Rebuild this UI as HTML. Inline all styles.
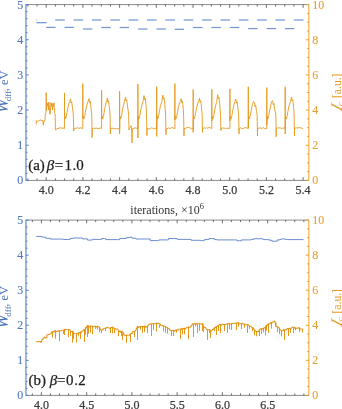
<!DOCTYPE html>
<html><head><meta charset="utf-8"><title>plot</title>
<style>html,body{margin:0;padding:0;background:#fff;} body{width:342px;height:409px;overflow:hidden;} svg{display:block;}</style>
</head><body>
<svg width="342" height="409" viewBox="0 0 342 409" font-family="'Liberation Serif', 'DejaVu Serif', serif">
<line x1="25.75" y1="4.6" x2="308.8" y2="4.6" stroke="#8a8a8a" stroke-width="1"/>
<line x1="25.75" y1="180.4" x2="308.8" y2="180.4" stroke="#8a8a8a" stroke-width="1"/>
<line x1="27.85" y1="180.4" x2="27.85" y2="178.4" stroke="#4a4a4a" stroke-width="0.8"/>
<line x1="27.85" y1="4.6" x2="27.85" y2="6.6" stroke="#4a4a4a" stroke-width="0.8"/>
<line x1="37.03" y1="180.4" x2="37.03" y2="178.4" stroke="#4a4a4a" stroke-width="0.8"/>
<line x1="37.03" y1="4.6" x2="37.03" y2="6.6" stroke="#4a4a4a" stroke-width="0.8"/>
<line x1="46.2" y1="180.4" x2="46.2" y2="177.2" stroke="#4a4a4a" stroke-width="0.8"/>
<line x1="46.2" y1="4.6" x2="46.2" y2="7.8" stroke="#4a4a4a" stroke-width="0.8"/>
<line x1="55.37" y1="180.4" x2="55.37" y2="178.4" stroke="#4a4a4a" stroke-width="0.8"/>
<line x1="55.37" y1="4.6" x2="55.37" y2="6.6" stroke="#4a4a4a" stroke-width="0.8"/>
<line x1="64.55" y1="180.4" x2="64.55" y2="178.4" stroke="#4a4a4a" stroke-width="0.8"/>
<line x1="64.55" y1="4.6" x2="64.55" y2="6.6" stroke="#4a4a4a" stroke-width="0.8"/>
<line x1="73.73" y1="180.4" x2="73.73" y2="178.4" stroke="#4a4a4a" stroke-width="0.8"/>
<line x1="73.73" y1="4.6" x2="73.73" y2="6.6" stroke="#4a4a4a" stroke-width="0.8"/>
<line x1="82.9" y1="180.4" x2="82.9" y2="177.2" stroke="#4a4a4a" stroke-width="0.8"/>
<line x1="82.9" y1="4.6" x2="82.9" y2="7.8" stroke="#4a4a4a" stroke-width="0.8"/>
<line x1="92.08" y1="180.4" x2="92.08" y2="178.4" stroke="#4a4a4a" stroke-width="0.8"/>
<line x1="92.08" y1="4.6" x2="92.08" y2="6.6" stroke="#4a4a4a" stroke-width="0.8"/>
<line x1="101.25" y1="180.4" x2="101.25" y2="178.4" stroke="#4a4a4a" stroke-width="0.8"/>
<line x1="101.25" y1="4.6" x2="101.25" y2="6.6" stroke="#4a4a4a" stroke-width="0.8"/>
<line x1="110.42" y1="180.4" x2="110.42" y2="178.4" stroke="#4a4a4a" stroke-width="0.8"/>
<line x1="110.42" y1="4.6" x2="110.42" y2="6.6" stroke="#4a4a4a" stroke-width="0.8"/>
<line x1="119.6" y1="180.4" x2="119.6" y2="177.2" stroke="#4a4a4a" stroke-width="0.8"/>
<line x1="119.6" y1="4.6" x2="119.6" y2="7.8" stroke="#4a4a4a" stroke-width="0.8"/>
<line x1="128.78" y1="180.4" x2="128.78" y2="178.4" stroke="#4a4a4a" stroke-width="0.8"/>
<line x1="128.78" y1="4.6" x2="128.78" y2="6.6" stroke="#4a4a4a" stroke-width="0.8"/>
<line x1="137.95" y1="180.4" x2="137.95" y2="178.4" stroke="#4a4a4a" stroke-width="0.8"/>
<line x1="137.95" y1="4.6" x2="137.95" y2="6.6" stroke="#4a4a4a" stroke-width="0.8"/>
<line x1="147.12" y1="180.4" x2="147.12" y2="178.4" stroke="#4a4a4a" stroke-width="0.8"/>
<line x1="147.12" y1="4.6" x2="147.12" y2="6.6" stroke="#4a4a4a" stroke-width="0.8"/>
<line x1="156.3" y1="180.4" x2="156.3" y2="177.2" stroke="#4a4a4a" stroke-width="0.8"/>
<line x1="156.3" y1="4.6" x2="156.3" y2="7.8" stroke="#4a4a4a" stroke-width="0.8"/>
<line x1="165.48" y1="180.4" x2="165.48" y2="178.4" stroke="#4a4a4a" stroke-width="0.8"/>
<line x1="165.48" y1="4.6" x2="165.48" y2="6.6" stroke="#4a4a4a" stroke-width="0.8"/>
<line x1="174.65" y1="180.4" x2="174.65" y2="178.4" stroke="#4a4a4a" stroke-width="0.8"/>
<line x1="174.65" y1="4.6" x2="174.65" y2="6.6" stroke="#4a4a4a" stroke-width="0.8"/>
<line x1="183.82" y1="180.4" x2="183.82" y2="178.4" stroke="#4a4a4a" stroke-width="0.8"/>
<line x1="183.82" y1="4.6" x2="183.82" y2="6.6" stroke="#4a4a4a" stroke-width="0.8"/>
<line x1="193" y1="180.4" x2="193" y2="177.2" stroke="#4a4a4a" stroke-width="0.8"/>
<line x1="193" y1="4.6" x2="193" y2="7.8" stroke="#4a4a4a" stroke-width="0.8"/>
<line x1="202.17" y1="180.4" x2="202.17" y2="178.4" stroke="#4a4a4a" stroke-width="0.8"/>
<line x1="202.17" y1="4.6" x2="202.17" y2="6.6" stroke="#4a4a4a" stroke-width="0.8"/>
<line x1="211.35" y1="180.4" x2="211.35" y2="178.4" stroke="#4a4a4a" stroke-width="0.8"/>
<line x1="211.35" y1="4.6" x2="211.35" y2="6.6" stroke="#4a4a4a" stroke-width="0.8"/>
<line x1="220.53" y1="180.4" x2="220.53" y2="178.4" stroke="#4a4a4a" stroke-width="0.8"/>
<line x1="220.53" y1="4.6" x2="220.53" y2="6.6" stroke="#4a4a4a" stroke-width="0.8"/>
<line x1="229.7" y1="180.4" x2="229.7" y2="177.2" stroke="#4a4a4a" stroke-width="0.8"/>
<line x1="229.7" y1="4.6" x2="229.7" y2="7.8" stroke="#4a4a4a" stroke-width="0.8"/>
<line x1="238.87" y1="180.4" x2="238.87" y2="178.4" stroke="#4a4a4a" stroke-width="0.8"/>
<line x1="238.87" y1="4.6" x2="238.87" y2="6.6" stroke="#4a4a4a" stroke-width="0.8"/>
<line x1="248.05" y1="180.4" x2="248.05" y2="178.4" stroke="#4a4a4a" stroke-width="0.8"/>
<line x1="248.05" y1="4.6" x2="248.05" y2="6.6" stroke="#4a4a4a" stroke-width="0.8"/>
<line x1="257.23" y1="180.4" x2="257.23" y2="178.4" stroke="#4a4a4a" stroke-width="0.8"/>
<line x1="257.23" y1="4.6" x2="257.23" y2="6.6" stroke="#4a4a4a" stroke-width="0.8"/>
<line x1="266.4" y1="180.4" x2="266.4" y2="177.2" stroke="#4a4a4a" stroke-width="0.8"/>
<line x1="266.4" y1="4.6" x2="266.4" y2="7.8" stroke="#4a4a4a" stroke-width="0.8"/>
<line x1="275.57" y1="180.4" x2="275.57" y2="178.4" stroke="#4a4a4a" stroke-width="0.8"/>
<line x1="275.57" y1="4.6" x2="275.57" y2="6.6" stroke="#4a4a4a" stroke-width="0.8"/>
<line x1="284.75" y1="180.4" x2="284.75" y2="178.4" stroke="#4a4a4a" stroke-width="0.8"/>
<line x1="284.75" y1="4.6" x2="284.75" y2="6.6" stroke="#4a4a4a" stroke-width="0.8"/>
<line x1="293.92" y1="180.4" x2="293.92" y2="178.4" stroke="#4a4a4a" stroke-width="0.8"/>
<line x1="293.92" y1="4.6" x2="293.92" y2="6.6" stroke="#4a4a4a" stroke-width="0.8"/>
<line x1="303.1" y1="180.4" x2="303.1" y2="177.2" stroke="#4a4a4a" stroke-width="0.8"/>
<line x1="303.1" y1="4.6" x2="303.1" y2="7.8" stroke="#4a4a4a" stroke-width="0.8"/>
<text x="46.2" y="194" text-anchor="middle" font-size="12" fill="#3c3c3c" stroke="#3c3c3c" stroke-width="0.25">4.0</text>
<text x="82.9" y="194" text-anchor="middle" font-size="12" fill="#3c3c3c" stroke="#3c3c3c" stroke-width="0.25">4.2</text>
<text x="119.6" y="194" text-anchor="middle" font-size="12" fill="#3c3c3c" stroke="#3c3c3c" stroke-width="0.25">4.4</text>
<text x="156.3" y="194" text-anchor="middle" font-size="12" fill="#3c3c3c" stroke="#3c3c3c" stroke-width="0.25">4.6</text>
<text x="193" y="194" text-anchor="middle" font-size="12" fill="#3c3c3c" stroke="#3c3c3c" stroke-width="0.25">4.8</text>
<text x="229.7" y="194" text-anchor="middle" font-size="12" fill="#3c3c3c" stroke="#3c3c3c" stroke-width="0.25">5.0</text>
<text x="266.4" y="194" text-anchor="middle" font-size="12" fill="#3c3c3c" stroke="#3c3c3c" stroke-width="0.25">5.2</text>
<text x="303.1" y="194" text-anchor="middle" font-size="12" fill="#3c3c3c" stroke="#3c3c3c" stroke-width="0.25">5.4</text>
<line x1="25.95" y1="4.6" x2="25.95" y2="180.4" stroke="#7f9fd8" stroke-width="1.5"/>
<line x1="25.75" y1="180.4" x2="28.75" y2="180.4" stroke="#4f79c0" stroke-width="0.9"/>
<text transform="translate(20.15,184.3) scale(1,1.08)" text-anchor="middle" font-size="12" fill="#5279c2" stroke="#5279c2" stroke-width="0.12">0</text>
<line x1="25.75" y1="173.37" x2="27.55" y2="173.37" stroke="#4f79c0" stroke-width="0.9"/>
<line x1="25.75" y1="166.34" x2="27.55" y2="166.34" stroke="#4f79c0" stroke-width="0.9"/>
<line x1="25.75" y1="159.3" x2="27.55" y2="159.3" stroke="#4f79c0" stroke-width="0.9"/>
<line x1="25.75" y1="152.27" x2="27.55" y2="152.27" stroke="#4f79c0" stroke-width="0.9"/>
<line x1="25.75" y1="145.24" x2="28.75" y2="145.24" stroke="#4f79c0" stroke-width="0.9"/>
<text transform="translate(20.15,149.14) scale(1,1.08)" text-anchor="middle" font-size="12" fill="#5279c2" stroke="#5279c2" stroke-width="0.12">1</text>
<line x1="25.75" y1="138.21" x2="27.55" y2="138.21" stroke="#4f79c0" stroke-width="0.9"/>
<line x1="25.75" y1="131.18" x2="27.55" y2="131.18" stroke="#4f79c0" stroke-width="0.9"/>
<line x1="25.75" y1="124.14" x2="27.55" y2="124.14" stroke="#4f79c0" stroke-width="0.9"/>
<line x1="25.75" y1="117.11" x2="27.55" y2="117.11" stroke="#4f79c0" stroke-width="0.9"/>
<line x1="25.75" y1="110.08" x2="28.75" y2="110.08" stroke="#4f79c0" stroke-width="0.9"/>
<text transform="translate(20.15,113.98) scale(1,1.08)" text-anchor="middle" font-size="12" fill="#5279c2" stroke="#5279c2" stroke-width="0.12">2</text>
<line x1="25.75" y1="103.05" x2="27.55" y2="103.05" stroke="#4f79c0" stroke-width="0.9"/>
<line x1="25.75" y1="96.02" x2="27.55" y2="96.02" stroke="#4f79c0" stroke-width="0.9"/>
<line x1="25.75" y1="88.98" x2="27.55" y2="88.98" stroke="#4f79c0" stroke-width="0.9"/>
<line x1="25.75" y1="81.95" x2="27.55" y2="81.95" stroke="#4f79c0" stroke-width="0.9"/>
<line x1="25.75" y1="74.92" x2="28.75" y2="74.92" stroke="#4f79c0" stroke-width="0.9"/>
<text transform="translate(20.15,78.82) scale(1,1.08)" text-anchor="middle" font-size="12" fill="#5279c2" stroke="#5279c2" stroke-width="0.12">3</text>
<line x1="25.75" y1="67.89" x2="27.55" y2="67.89" stroke="#4f79c0" stroke-width="0.9"/>
<line x1="25.75" y1="60.86" x2="27.55" y2="60.86" stroke="#4f79c0" stroke-width="0.9"/>
<line x1="25.75" y1="53.82" x2="27.55" y2="53.82" stroke="#4f79c0" stroke-width="0.9"/>
<line x1="25.75" y1="46.79" x2="27.55" y2="46.79" stroke="#4f79c0" stroke-width="0.9"/>
<line x1="25.75" y1="39.76" x2="28.75" y2="39.76" stroke="#4f79c0" stroke-width="0.9"/>
<text transform="translate(20.15,43.66) scale(1,1.08)" text-anchor="middle" font-size="12" fill="#5279c2" stroke="#5279c2" stroke-width="0.12">4</text>
<line x1="25.75" y1="32.73" x2="27.55" y2="32.73" stroke="#4f79c0" stroke-width="0.9"/>
<line x1="25.75" y1="25.7" x2="27.55" y2="25.7" stroke="#4f79c0" stroke-width="0.9"/>
<line x1="25.75" y1="18.66" x2="27.55" y2="18.66" stroke="#4f79c0" stroke-width="0.9"/>
<line x1="25.75" y1="11.63" x2="27.55" y2="11.63" stroke="#4f79c0" stroke-width="0.9"/>
<line x1="25.75" y1="4.6" x2="28.75" y2="4.6" stroke="#4f79c0" stroke-width="0.9"/>
<text transform="translate(20.15,8.5) scale(1,1.08)" text-anchor="middle" font-size="12" fill="#5279c2" stroke="#5279c2" stroke-width="0.12">5</text>
<line x1="308.8" y1="4.6" x2="308.8" y2="180.4" stroke="#f1bd5c" stroke-width="1.4"/>
<line x1="308.8" y1="180.4" x2="305.8" y2="180.4" stroke="#e49a22" stroke-width="0.9"/>
<text transform="translate(312.2,184.3) scale(1,1.08)" font-size="12" fill="#e5a034" stroke="#e5a034" stroke-width="0.1">0</text>
<line x1="308.8" y1="171.61" x2="307" y2="171.61" stroke="#e49a22" stroke-width="0.9"/>
<line x1="308.8" y1="162.82" x2="307" y2="162.82" stroke="#e49a22" stroke-width="0.9"/>
<line x1="308.8" y1="154.03" x2="307" y2="154.03" stroke="#e49a22" stroke-width="0.9"/>
<line x1="308.8" y1="145.24" x2="305.8" y2="145.24" stroke="#e49a22" stroke-width="0.9"/>
<text transform="translate(312.2,149.14) scale(1,1.08)" font-size="12" fill="#e5a034" stroke="#e5a034" stroke-width="0.1">2</text>
<line x1="308.8" y1="136.45" x2="307" y2="136.45" stroke="#e49a22" stroke-width="0.9"/>
<line x1="308.8" y1="127.66" x2="307" y2="127.66" stroke="#e49a22" stroke-width="0.9"/>
<line x1="308.8" y1="118.87" x2="307" y2="118.87" stroke="#e49a22" stroke-width="0.9"/>
<line x1="308.8" y1="110.08" x2="305.8" y2="110.08" stroke="#e49a22" stroke-width="0.9"/>
<text transform="translate(312.2,113.98) scale(1,1.08)" font-size="12" fill="#e5a034" stroke="#e5a034" stroke-width="0.1">4</text>
<line x1="308.8" y1="101.29" x2="307" y2="101.29" stroke="#e49a22" stroke-width="0.9"/>
<line x1="308.8" y1="92.5" x2="307" y2="92.5" stroke="#e49a22" stroke-width="0.9"/>
<line x1="308.8" y1="83.71" x2="307" y2="83.71" stroke="#e49a22" stroke-width="0.9"/>
<line x1="308.8" y1="74.92" x2="305.8" y2="74.92" stroke="#e49a22" stroke-width="0.9"/>
<text transform="translate(312.2,78.82) scale(1,1.08)" font-size="12" fill="#e5a034" stroke="#e5a034" stroke-width="0.1">6</text>
<line x1="308.8" y1="66.13" x2="307" y2="66.13" stroke="#e49a22" stroke-width="0.9"/>
<line x1="308.8" y1="57.34" x2="307" y2="57.34" stroke="#e49a22" stroke-width="0.9"/>
<line x1="308.8" y1="48.55" x2="307" y2="48.55" stroke="#e49a22" stroke-width="0.9"/>
<line x1="308.8" y1="39.76" x2="305.8" y2="39.76" stroke="#e49a22" stroke-width="0.9"/>
<text transform="translate(312.2,43.66) scale(1,1.08)" font-size="12" fill="#e5a034" stroke="#e5a034" stroke-width="0.1">8</text>
<line x1="308.8" y1="30.97" x2="307" y2="30.97" stroke="#e49a22" stroke-width="0.9"/>
<line x1="308.8" y1="22.18" x2="307" y2="22.18" stroke="#e49a22" stroke-width="0.9"/>
<line x1="308.8" y1="13.39" x2="307" y2="13.39" stroke="#e49a22" stroke-width="0.9"/>
<line x1="308.8" y1="4.6" x2="305.8" y2="4.6" stroke="#e49a22" stroke-width="0.9"/>
<text transform="translate(312.2,8.5) scale(1,1.08)" font-size="12" fill="#e5a034" stroke="#e5a034" stroke-width="0.1">10</text>
<text transform="translate(8.4,113.6) rotate(-90)" font-size="18" font-style="italic" fill="#4a73bb">W</text>
<text transform="translate(10.5,101.2) rotate(-90)" font-size="9" fill="#4a73bb">dff</text>
<text transform="translate(8.4,91.2) rotate(-90)" font-size="12.5" fill="#4a73bb">, eV</text>
<text transform="translate(341.5,111.8) rotate(-90) skewX(-20)" font-size="16" font-style="italic" fill="#e49a22">I</text>
<text transform="translate(342.6,105.9) rotate(-90)" font-size="9" font-style="italic" fill="#e49a22">c</text>
<text transform="translate(341.4,98) rotate(-90)" font-size="11.6" fill="#e49a22">[a.u.]</text>
<text y="170.4" font-size="15" fill="#1e1e1e" stroke="#1e1e1e" stroke-width="0.25"><tspan x="28.2">(a)</tspan><tspan x="46.8" font-style="italic">β</tspan><tspan x="54.8">=</tspan><tspan x="64.4">1</tspan><tspan x="72.6">.</tspan><tspan x="76.2">0</tspan></text>
<line x1="25.75" y1="220.1" x2="308.8" y2="220.1" stroke="#8a8a8a" stroke-width="1"/>
<line x1="25.75" y1="395.4" x2="308.8" y2="395.4" stroke="#8a8a8a" stroke-width="1"/>
<line x1="32.35" y1="395.4" x2="32.35" y2="393.4" stroke="#4a4a4a" stroke-width="0.8"/>
<line x1="32.35" y1="220.1" x2="32.35" y2="222.1" stroke="#4a4a4a" stroke-width="0.8"/>
<line x1="41.4" y1="395.4" x2="41.4" y2="392.2" stroke="#4a4a4a" stroke-width="0.8"/>
<line x1="41.4" y1="220.1" x2="41.4" y2="223.3" stroke="#4a4a4a" stroke-width="0.8"/>
<line x1="50.45" y1="395.4" x2="50.45" y2="393.4" stroke="#4a4a4a" stroke-width="0.8"/>
<line x1="50.45" y1="220.1" x2="50.45" y2="222.1" stroke="#4a4a4a" stroke-width="0.8"/>
<line x1="59.5" y1="395.4" x2="59.5" y2="393.4" stroke="#4a4a4a" stroke-width="0.8"/>
<line x1="59.5" y1="220.1" x2="59.5" y2="222.1" stroke="#4a4a4a" stroke-width="0.8"/>
<line x1="68.55" y1="395.4" x2="68.55" y2="393.4" stroke="#4a4a4a" stroke-width="0.8"/>
<line x1="68.55" y1="220.1" x2="68.55" y2="222.1" stroke="#4a4a4a" stroke-width="0.8"/>
<line x1="77.6" y1="395.4" x2="77.6" y2="393.4" stroke="#4a4a4a" stroke-width="0.8"/>
<line x1="77.6" y1="220.1" x2="77.6" y2="222.1" stroke="#4a4a4a" stroke-width="0.8"/>
<line x1="86.65" y1="395.4" x2="86.65" y2="392.2" stroke="#4a4a4a" stroke-width="0.8"/>
<line x1="86.65" y1="220.1" x2="86.65" y2="223.3" stroke="#4a4a4a" stroke-width="0.8"/>
<line x1="95.7" y1="395.4" x2="95.7" y2="393.4" stroke="#4a4a4a" stroke-width="0.8"/>
<line x1="95.7" y1="220.1" x2="95.7" y2="222.1" stroke="#4a4a4a" stroke-width="0.8"/>
<line x1="104.75" y1="395.4" x2="104.75" y2="393.4" stroke="#4a4a4a" stroke-width="0.8"/>
<line x1="104.75" y1="220.1" x2="104.75" y2="222.1" stroke="#4a4a4a" stroke-width="0.8"/>
<line x1="113.8" y1="395.4" x2="113.8" y2="393.4" stroke="#4a4a4a" stroke-width="0.8"/>
<line x1="113.8" y1="220.1" x2="113.8" y2="222.1" stroke="#4a4a4a" stroke-width="0.8"/>
<line x1="122.85" y1="395.4" x2="122.85" y2="393.4" stroke="#4a4a4a" stroke-width="0.8"/>
<line x1="122.85" y1="220.1" x2="122.85" y2="222.1" stroke="#4a4a4a" stroke-width="0.8"/>
<line x1="131.9" y1="395.4" x2="131.9" y2="392.2" stroke="#4a4a4a" stroke-width="0.8"/>
<line x1="131.9" y1="220.1" x2="131.9" y2="223.3" stroke="#4a4a4a" stroke-width="0.8"/>
<line x1="140.95" y1="395.4" x2="140.95" y2="393.4" stroke="#4a4a4a" stroke-width="0.8"/>
<line x1="140.95" y1="220.1" x2="140.95" y2="222.1" stroke="#4a4a4a" stroke-width="0.8"/>
<line x1="150" y1="395.4" x2="150" y2="393.4" stroke="#4a4a4a" stroke-width="0.8"/>
<line x1="150" y1="220.1" x2="150" y2="222.1" stroke="#4a4a4a" stroke-width="0.8"/>
<line x1="159.05" y1="395.4" x2="159.05" y2="393.4" stroke="#4a4a4a" stroke-width="0.8"/>
<line x1="159.05" y1="220.1" x2="159.05" y2="222.1" stroke="#4a4a4a" stroke-width="0.8"/>
<line x1="168.1" y1="395.4" x2="168.1" y2="393.4" stroke="#4a4a4a" stroke-width="0.8"/>
<line x1="168.1" y1="220.1" x2="168.1" y2="222.1" stroke="#4a4a4a" stroke-width="0.8"/>
<line x1="177.15" y1="395.4" x2="177.15" y2="392.2" stroke="#4a4a4a" stroke-width="0.8"/>
<line x1="177.15" y1="220.1" x2="177.15" y2="223.3" stroke="#4a4a4a" stroke-width="0.8"/>
<line x1="186.2" y1="395.4" x2="186.2" y2="393.4" stroke="#4a4a4a" stroke-width="0.8"/>
<line x1="186.2" y1="220.1" x2="186.2" y2="222.1" stroke="#4a4a4a" stroke-width="0.8"/>
<line x1="195.25" y1="395.4" x2="195.25" y2="393.4" stroke="#4a4a4a" stroke-width="0.8"/>
<line x1="195.25" y1="220.1" x2="195.25" y2="222.1" stroke="#4a4a4a" stroke-width="0.8"/>
<line x1="204.3" y1="395.4" x2="204.3" y2="393.4" stroke="#4a4a4a" stroke-width="0.8"/>
<line x1="204.3" y1="220.1" x2="204.3" y2="222.1" stroke="#4a4a4a" stroke-width="0.8"/>
<line x1="213.35" y1="395.4" x2="213.35" y2="393.4" stroke="#4a4a4a" stroke-width="0.8"/>
<line x1="213.35" y1="220.1" x2="213.35" y2="222.1" stroke="#4a4a4a" stroke-width="0.8"/>
<line x1="222.4" y1="395.4" x2="222.4" y2="392.2" stroke="#4a4a4a" stroke-width="0.8"/>
<line x1="222.4" y1="220.1" x2="222.4" y2="223.3" stroke="#4a4a4a" stroke-width="0.8"/>
<line x1="231.45" y1="395.4" x2="231.45" y2="393.4" stroke="#4a4a4a" stroke-width="0.8"/>
<line x1="231.45" y1="220.1" x2="231.45" y2="222.1" stroke="#4a4a4a" stroke-width="0.8"/>
<line x1="240.5" y1="395.4" x2="240.5" y2="393.4" stroke="#4a4a4a" stroke-width="0.8"/>
<line x1="240.5" y1="220.1" x2="240.5" y2="222.1" stroke="#4a4a4a" stroke-width="0.8"/>
<line x1="249.55" y1="395.4" x2="249.55" y2="393.4" stroke="#4a4a4a" stroke-width="0.8"/>
<line x1="249.55" y1="220.1" x2="249.55" y2="222.1" stroke="#4a4a4a" stroke-width="0.8"/>
<line x1="258.6" y1="395.4" x2="258.6" y2="393.4" stroke="#4a4a4a" stroke-width="0.8"/>
<line x1="258.6" y1="220.1" x2="258.6" y2="222.1" stroke="#4a4a4a" stroke-width="0.8"/>
<line x1="267.65" y1="395.4" x2="267.65" y2="392.2" stroke="#4a4a4a" stroke-width="0.8"/>
<line x1="267.65" y1="220.1" x2="267.65" y2="223.3" stroke="#4a4a4a" stroke-width="0.8"/>
<line x1="276.7" y1="395.4" x2="276.7" y2="393.4" stroke="#4a4a4a" stroke-width="0.8"/>
<line x1="276.7" y1="220.1" x2="276.7" y2="222.1" stroke="#4a4a4a" stroke-width="0.8"/>
<line x1="285.75" y1="395.4" x2="285.75" y2="393.4" stroke="#4a4a4a" stroke-width="0.8"/>
<line x1="285.75" y1="220.1" x2="285.75" y2="222.1" stroke="#4a4a4a" stroke-width="0.8"/>
<line x1="294.8" y1="395.4" x2="294.8" y2="393.4" stroke="#4a4a4a" stroke-width="0.8"/>
<line x1="294.8" y1="220.1" x2="294.8" y2="222.1" stroke="#4a4a4a" stroke-width="0.8"/>
<line x1="303.85" y1="395.4" x2="303.85" y2="393.4" stroke="#4a4a4a" stroke-width="0.8"/>
<line x1="303.85" y1="220.1" x2="303.85" y2="222.1" stroke="#4a4a4a" stroke-width="0.8"/>
<text x="41.4" y="409" text-anchor="middle" font-size="12" fill="#3c3c3c" stroke="#3c3c3c" stroke-width="0.25">4.0</text>
<text x="86.65" y="409" text-anchor="middle" font-size="12" fill="#3c3c3c" stroke="#3c3c3c" stroke-width="0.25">4.5</text>
<text x="131.9" y="409" text-anchor="middle" font-size="12" fill="#3c3c3c" stroke="#3c3c3c" stroke-width="0.25">5.0</text>
<text x="177.15" y="409" text-anchor="middle" font-size="12" fill="#3c3c3c" stroke="#3c3c3c" stroke-width="0.25">5.5</text>
<text x="222.4" y="409" text-anchor="middle" font-size="12" fill="#3c3c3c" stroke="#3c3c3c" stroke-width="0.25">6.0</text>
<text x="267.65" y="409" text-anchor="middle" font-size="12" fill="#3c3c3c" stroke="#3c3c3c" stroke-width="0.25">6.5</text>
<line x1="25.95" y1="220.1" x2="25.95" y2="395.4" stroke="#7f9fd8" stroke-width="1.5"/>
<line x1="25.75" y1="395.4" x2="28.75" y2="395.4" stroke="#4f79c0" stroke-width="0.9"/>
<text transform="translate(20.15,399.3) scale(1,1.08)" text-anchor="middle" font-size="12" fill="#5279c2" stroke="#5279c2" stroke-width="0.12">0</text>
<line x1="25.75" y1="388.39" x2="27.55" y2="388.39" stroke="#4f79c0" stroke-width="0.9"/>
<line x1="25.75" y1="381.38" x2="27.55" y2="381.38" stroke="#4f79c0" stroke-width="0.9"/>
<line x1="25.75" y1="374.36" x2="27.55" y2="374.36" stroke="#4f79c0" stroke-width="0.9"/>
<line x1="25.75" y1="367.35" x2="27.55" y2="367.35" stroke="#4f79c0" stroke-width="0.9"/>
<line x1="25.75" y1="360.34" x2="28.75" y2="360.34" stroke="#4f79c0" stroke-width="0.9"/>
<text transform="translate(20.15,364.24) scale(1,1.08)" text-anchor="middle" font-size="12" fill="#5279c2" stroke="#5279c2" stroke-width="0.12">1</text>
<line x1="25.75" y1="353.33" x2="27.55" y2="353.33" stroke="#4f79c0" stroke-width="0.9"/>
<line x1="25.75" y1="346.32" x2="27.55" y2="346.32" stroke="#4f79c0" stroke-width="0.9"/>
<line x1="25.75" y1="339.3" x2="27.55" y2="339.3" stroke="#4f79c0" stroke-width="0.9"/>
<line x1="25.75" y1="332.29" x2="27.55" y2="332.29" stroke="#4f79c0" stroke-width="0.9"/>
<line x1="25.75" y1="325.28" x2="28.75" y2="325.28" stroke="#4f79c0" stroke-width="0.9"/>
<text transform="translate(20.15,329.18) scale(1,1.08)" text-anchor="middle" font-size="12" fill="#5279c2" stroke="#5279c2" stroke-width="0.12">2</text>
<line x1="25.75" y1="318.27" x2="27.55" y2="318.27" stroke="#4f79c0" stroke-width="0.9"/>
<line x1="25.75" y1="311.26" x2="27.55" y2="311.26" stroke="#4f79c0" stroke-width="0.9"/>
<line x1="25.75" y1="304.24" x2="27.55" y2="304.24" stroke="#4f79c0" stroke-width="0.9"/>
<line x1="25.75" y1="297.23" x2="27.55" y2="297.23" stroke="#4f79c0" stroke-width="0.9"/>
<line x1="25.75" y1="290.22" x2="28.75" y2="290.22" stroke="#4f79c0" stroke-width="0.9"/>
<text transform="translate(20.15,294.12) scale(1,1.08)" text-anchor="middle" font-size="12" fill="#5279c2" stroke="#5279c2" stroke-width="0.12">3</text>
<line x1="25.75" y1="283.21" x2="27.55" y2="283.21" stroke="#4f79c0" stroke-width="0.9"/>
<line x1="25.75" y1="276.2" x2="27.55" y2="276.2" stroke="#4f79c0" stroke-width="0.9"/>
<line x1="25.75" y1="269.18" x2="27.55" y2="269.18" stroke="#4f79c0" stroke-width="0.9"/>
<line x1="25.75" y1="262.17" x2="27.55" y2="262.17" stroke="#4f79c0" stroke-width="0.9"/>
<line x1="25.75" y1="255.16" x2="28.75" y2="255.16" stroke="#4f79c0" stroke-width="0.9"/>
<text transform="translate(20.15,259.06) scale(1,1.08)" text-anchor="middle" font-size="12" fill="#5279c2" stroke="#5279c2" stroke-width="0.12">4</text>
<line x1="25.75" y1="248.15" x2="27.55" y2="248.15" stroke="#4f79c0" stroke-width="0.9"/>
<line x1="25.75" y1="241.14" x2="27.55" y2="241.14" stroke="#4f79c0" stroke-width="0.9"/>
<line x1="25.75" y1="234.12" x2="27.55" y2="234.12" stroke="#4f79c0" stroke-width="0.9"/>
<line x1="25.75" y1="227.11" x2="27.55" y2="227.11" stroke="#4f79c0" stroke-width="0.9"/>
<line x1="25.75" y1="220.1" x2="28.75" y2="220.1" stroke="#4f79c0" stroke-width="0.9"/>
<text transform="translate(20.15,224) scale(1,1.08)" text-anchor="middle" font-size="12" fill="#5279c2" stroke="#5279c2" stroke-width="0.12">5</text>
<line x1="308.8" y1="220.1" x2="308.8" y2="395.4" stroke="#f1bd5c" stroke-width="1.4"/>
<line x1="308.8" y1="395.4" x2="305.8" y2="395.4" stroke="#e49a22" stroke-width="0.9"/>
<text transform="translate(312.2,399.3) scale(1,1.08)" font-size="12" fill="#e5a034" stroke="#e5a034" stroke-width="0.1">0</text>
<line x1="308.8" y1="386.63" x2="307" y2="386.63" stroke="#e49a22" stroke-width="0.9"/>
<line x1="308.8" y1="377.87" x2="307" y2="377.87" stroke="#e49a22" stroke-width="0.9"/>
<line x1="308.8" y1="369.1" x2="307" y2="369.1" stroke="#e49a22" stroke-width="0.9"/>
<line x1="308.8" y1="360.34" x2="305.8" y2="360.34" stroke="#e49a22" stroke-width="0.9"/>
<text transform="translate(312.2,364.24) scale(1,1.08)" font-size="12" fill="#e5a034" stroke="#e5a034" stroke-width="0.1">2</text>
<line x1="308.8" y1="351.57" x2="307" y2="351.57" stroke="#e49a22" stroke-width="0.9"/>
<line x1="308.8" y1="342.81" x2="307" y2="342.81" stroke="#e49a22" stroke-width="0.9"/>
<line x1="308.8" y1="334.04" x2="307" y2="334.04" stroke="#e49a22" stroke-width="0.9"/>
<line x1="308.8" y1="325.28" x2="305.8" y2="325.28" stroke="#e49a22" stroke-width="0.9"/>
<text transform="translate(312.2,329.18) scale(1,1.08)" font-size="12" fill="#e5a034" stroke="#e5a034" stroke-width="0.1">4</text>
<line x1="308.8" y1="316.51" x2="307" y2="316.51" stroke="#e49a22" stroke-width="0.9"/>
<line x1="308.8" y1="307.75" x2="307" y2="307.75" stroke="#e49a22" stroke-width="0.9"/>
<line x1="308.8" y1="298.99" x2="307" y2="298.99" stroke="#e49a22" stroke-width="0.9"/>
<line x1="308.8" y1="290.22" x2="305.8" y2="290.22" stroke="#e49a22" stroke-width="0.9"/>
<text transform="translate(312.2,294.12) scale(1,1.08)" font-size="12" fill="#e5a034" stroke="#e5a034" stroke-width="0.1">6</text>
<line x1="308.8" y1="281.45" x2="307" y2="281.45" stroke="#e49a22" stroke-width="0.9"/>
<line x1="308.8" y1="272.69" x2="307" y2="272.69" stroke="#e49a22" stroke-width="0.9"/>
<line x1="308.8" y1="263.93" x2="307" y2="263.93" stroke="#e49a22" stroke-width="0.9"/>
<line x1="308.8" y1="255.16" x2="305.8" y2="255.16" stroke="#e49a22" stroke-width="0.9"/>
<text transform="translate(312.2,259.06) scale(1,1.08)" font-size="12" fill="#e5a034" stroke="#e5a034" stroke-width="0.1">8</text>
<line x1="308.8" y1="246.39" x2="307" y2="246.39" stroke="#e49a22" stroke-width="0.9"/>
<line x1="308.8" y1="237.63" x2="307" y2="237.63" stroke="#e49a22" stroke-width="0.9"/>
<line x1="308.8" y1="228.86" x2="307" y2="228.86" stroke="#e49a22" stroke-width="0.9"/>
<line x1="308.8" y1="220.1" x2="305.8" y2="220.1" stroke="#e49a22" stroke-width="0.9"/>
<text transform="translate(312.2,224) scale(1,1.08)" font-size="12" fill="#e5a034" stroke="#e5a034" stroke-width="0.1">10</text>
<text transform="translate(8.4,329.1) rotate(-90)" font-size="18" font-style="italic" fill="#4a73bb">W</text>
<text transform="translate(10.5,316.7) rotate(-90)" font-size="9" fill="#4a73bb">dff</text>
<text transform="translate(8.4,306.7) rotate(-90)" font-size="12.5" fill="#4a73bb">, eV</text>
<text transform="translate(341.5,327.3) rotate(-90) skewX(-20)" font-size="16" font-style="italic" fill="#e49a22">I</text>
<text transform="translate(342.6,321.4) rotate(-90)" font-size="9" font-style="italic" fill="#e49a22">c</text>
<text transform="translate(341.4,313.5) rotate(-90)" font-size="11.6" fill="#e49a22">[a.u.]</text>
<text y="385.4" font-size="15" fill="#1e1e1e" stroke="#1e1e1e" stroke-width="0.25"><tspan x="28.4">(b)</tspan><tspan x="49.7" font-style="italic">β</tspan><tspan x="57.0">=</tspan><tspan x="66.0">0</tspan><tspan x="74.2">.</tspan><tspan x="78.2">2</tspan></text>
<polyline points="36.4,20.2 36.9,20.2" fill="none" stroke="#7094d4" stroke-width="1.2"/>
<polyline points="36.4,22.7 46.7,22.7" fill="none" stroke="#7094d4" stroke-width="1.2"/>
<polyline points="46.2,27.4 55.6,27.4" fill="none" stroke="#7094d4" stroke-width="1.2"/>
<polyline points="55.2,20 64.8,20" fill="none" stroke="#7094d4" stroke-width="1.2"/>
<polyline points="64.56,27.4 73.96,27.4" fill="none" stroke="#7094d4" stroke-width="1.2"/>
<polyline points="73.56,20 83.16,20" fill="none" stroke="#7094d4" stroke-width="1.2"/>
<polyline points="82.92,29 92.32,29" fill="none" stroke="#7094d4" stroke-width="1.2"/>
<polyline points="91.92,20 101.52,20" fill="none" stroke="#7094d4" stroke-width="1.2"/>
<polyline points="101.28,27.5 110.68,27.5" fill="none" stroke="#7094d4" stroke-width="1.2"/>
<polyline points="110.28,20 119.88,20" fill="none" stroke="#7094d4" stroke-width="1.2"/>
<polyline points="119.64,27.5 129.04,27.5" fill="none" stroke="#7094d4" stroke-width="1.2"/>
<polyline points="128.64,20 138.24,20" fill="none" stroke="#7094d4" stroke-width="1.2"/>
<polyline points="138,29 147.4,29" fill="none" stroke="#7094d4" stroke-width="1.2"/>
<polyline points="147,20 156.6,20" fill="none" stroke="#7094d4" stroke-width="1.2"/>
<polyline points="156.36,29 165.76,29" fill="none" stroke="#7094d4" stroke-width="1.2"/>
<polyline points="165.36,20 174.96,20" fill="none" stroke="#7094d4" stroke-width="1.2"/>
<polyline points="174.72,29.3 184.12,29.3" fill="none" stroke="#7094d4" stroke-width="1.2"/>
<polyline points="183.72,20 193.32,20" fill="none" stroke="#7094d4" stroke-width="1.2"/>
<polyline points="193.08,27.5 202.48,27.5" fill="none" stroke="#7094d4" stroke-width="1.2"/>
<polyline points="202.08,20 211.68,20" fill="none" stroke="#7094d4" stroke-width="1.2"/>
<polyline points="211.44,27.5 220.84,27.5" fill="none" stroke="#7094d4" stroke-width="1.2"/>
<polyline points="220.44,20 230.04,20" fill="none" stroke="#7094d4" stroke-width="1.2"/>
<polyline points="229.8,27.5 239.2,27.5" fill="none" stroke="#7094d4" stroke-width="1.2"/>
<polyline points="238.8,20 248.4,20" fill="none" stroke="#7094d4" stroke-width="1.2"/>
<polyline points="248.16,28.6 257.56,28.6" fill="none" stroke="#7094d4" stroke-width="1.2"/>
<polyline points="257.16,20 266.76,20" fill="none" stroke="#7094d4" stroke-width="1.2"/>
<polyline points="266.52,28.6 275.92,28.6" fill="none" stroke="#7094d4" stroke-width="1.2"/>
<polyline points="275.52,20 285.12,20" fill="none" stroke="#7094d4" stroke-width="1.2"/>
<polyline points="284.88,28.6 294.28,28.6" fill="none" stroke="#7094d4" stroke-width="1.2"/>
<polyline points="293.88,20 303.48,20" fill="none" stroke="#7094d4" stroke-width="1.2"/>
<polyline points="36.3,124.4 36.3,120.6 37,121.3 38.5,121 39.5,120.5 41,119.8 42,121 43,120.4 43.3,125.3 44,121 45,120.4 45.3,114.3 45.8,113.1 46.1,109.4 46.2,92.6 46.4,110.6 47,103.3 47.5,105.8 48,102.7 48.5,110 49,102 49.5,110 50,114.3 50.5,110 51,102.7 51.5,106.4 52,103.3 52.5,110 53,103.9 53.5,106.4 54,102.7 54.5,113.1 55.2,113.7 55.4,130.2 56,129.5 57,128.7 59,128.3 60,127.7 62,128.3 63,127.8 64.2,128.7 64.5,128.6 64.5,92.9 64.5,118.4 64.8,116 65.5,119 66.3,116.5 67.1,112 68,107 69.5,101.5 70.5,99 71.1,103 71.7,101.6 72.5,108 73.3,114 73.7,131 73.8,128.5 74.99,128.22 76.29,128.31 77.79,127.5 78.8,128.66 80,127.75 81.8,128.11 82.8,128.6 82.8,83.6 82.8,118 83.1,116 83.8,119 84.6,116.5 85.4,112 86.3,107 88,101.5 89,98.7 89.6,102.7 90.2,101.3 91,107.7 91.7,114 92.1,137.6 92.2,128.5 93.58,128.36 94.7,128.35 96.4,128.18 97.99,128.41 99.04,128.54 100.51,127.85 101.6,128.6 101.6,90.3 101.6,119 101.9,116 102.6,119 103.4,116.5 104.2,112 105.1,107 106.3,101.5 107.3,98.2 107.9,102.2 108.5,100.8 109.3,107.2 110,114 110.4,134 110.5,128.5 112.19,128.11 113.77,128.72 115.34,128.78 116.65,128.6 118.01,128.8 119.6,128.6 119.6,91.2 119.6,134 119.9,116 120.6,119 121.4,116.5 122.2,112 123.1,107 124.5,101.5 125.5,97 126.1,101 126.7,99.6 127.5,106 128.6,114 129,130 129.1,128.5 130.18,127.6 131,125.7 131.6,129 132,143 132.4,128.6 133.94,128.16 135.25,127.93 136.72,128.28 137.9,128.6 137.9,84 137.9,138 138.2,116 138.9,119 139.7,116.5 140.5,112 141.4,107 143,101.5 144,95.6 144.6,99.6 145.2,98.2 146,104.6 146.5,114 146.9,135.6 147,128.5 148.55,128.79 150.23,128.89 151.77,127.64 153.46,128.85 155.18,128.25 156.7,128.6 156.7,86.7 156.7,136.4 157,116 157.7,119 158.5,116.5 159.3,112 160.2,107 161.8,101.5 162.8,95.1 163.4,99.1 164,97.7 164.8,104.1 165.6,114 166,134.8 166.1,128.5 167.27,128.65 168.73,127.83 169.78,128.68 171.57,127.53 173.21,128.02 174.9,128.6 174.9,83.6 174.9,120 175.2,116 175.9,119 176.7,116.5 177.5,112 178.4,107 180.2,101.5 181.2,98.7 181.8,102.7 182.4,101.3 183.2,107.7 183.6,114 184,135.9 184.1,128.5 185.34,128.55 187.03,127.47 188.52,127.47 190.1,127.9 191.8,128.87 193.2,128.6 193.2,89.4 193.2,132.4 193.5,116 194.2,119 195,116.5 195.8,112 196.7,107 198.5,101.5 199.5,98.2 200.1,102.2 200.7,100.8 201.5,107.2 202.1,114 202.5,132.4 202.6,128.5 204.4,127.86 205.46,128.3 206.49,127.7 207.81,128.32 208.94,127.46 210.63,127.87 211.8,128.6 211.8,89.4 211.8,121 212.1,116 212.8,119 213.6,116.5 214.4,112 215.3,107 216.7,101.5 217.7,94.7 218.3,98.7 218.9,97.3 219.7,103.7 220.5,114 220.9,130.6 221,128.5 222.72,127.97 224.09,128.18 225.6,128.29 227.05,128.33 228.8,128.16 229.9,128.6 229.9,88.9 229.9,121 230.2,116 230.9,119 231.7,116.5 232.5,112 233.4,107 234.9,101.5 235.9,99 236.5,103 237.1,101.6 237.9,108 238.6,114 239,133.8 239.1,128.5 240.68,127.76 241.92,128.87 243.33,128.22 244.34,128.02 245.81,127.43 247.3,128.35 248.3,128.6 248.3,86.8 248.3,128 248.6,116 249.3,119 250.1,116.5 250.9,112 251.8,107 253.5,101.5 254.5,102.6 255.1,106.6 255.7,105.2 256.5,111.6 257.1,114 257.5,135.9 257.6,128.5 259.1,128.1 260.65,127.93 262.21,128.51 263.23,127.49 264.77,128.84 265.97,128.08 266.8,128.6 266.8,87.6 266.8,125 267.1,116 267.8,119 268.6,116.5 269.4,112 270.3,107 271.7,101.5 272.7,100.8 273.3,104.8 273.9,103.4 274.7,109.8 275.8,114 276.2,136.8 276.3,128.5 277.56,127.95 278.81,127.95 280.28,127.85 281.58,128.56 282.61,128.25 284.19,127.87 285.2,128.6 285.2,86.8 285.2,134 285.5,116 286.2,119 287,116.5 287.8,112 288.7,107 290.5,101.5 291.5,97 292.1,101 292.7,99.6 293.5,106 294.1,114 294.5,135.9 294.6,128.5 296.24,127.76 297.39,128.05 298.95,127.55 300.21,127.9 301.88,128.06 303.2,129" fill="none" stroke="#e6991c" stroke-width="0.9"/>
<text x="167.2" y="213.8" text-anchor="middle" font-size="12" fill="#333">iterations, ×10<tspan font-size="8.5" dy="-4.6">6</tspan></text>
<polyline points="36.4,236.4 41.7,236.4 41.7,237.1 45.8,237.1 45.8,238.3 50.5,238.3 50.5,239.1 62.7,239.1 63.3,239.1 63.3,239.5 68.6,239.5 70,239.5 70,238.4 73,238.4 73,238 80.9,238 82.6,238 82.6,238.9 85.8,238.9 87.5,238.9 87.5,240.1 91.1,240.1 91.1,239.9 92.9,239.9 92.9,239.4 99.9,239.4 101.7,239.4 101.7,238.5 104.3,238.5 105.7,238.5 105.7,239.6 117.5,239.6 119.7,239.6 119.7,238.5 126.2,238.5 126.2,237.6 130.3,237.6 130.3,237.1 132,237.1 132,238.2 135.9,238.2 135.9,239 148.8,239 148.8,238.9 150.2,238.9 150.2,240.6 157.5,240.6 158.9,240.6 158.9,239.9 167.2,239.9 168.4,239.9 168.4,238.5 176,238.5 177.2,238.5 177.2,239.4 190,239.4 191.2,239.4 191.2,240.3 198.9,240.3 200.3,240.3 200.3,240.6 203.4,240.6 204.6,240.6 204.6,239.4 209,239.4 209,238.5 211.7,238.5 214.3,238.5 214.3,239.6 216.9,239.6 216.9,239.9 235.4,239.9 237.1,239.9 237.1,240.8 239.7,240.8 241.5,240.8 241.5,239.9 248.5,239.9 251.1,239.9 251.1,239.4 253.8,239.4 253.8,238.7 261.4,238.7 261.4,238.9 263.2,238.9 263.2,239.6 267.5,239.6 269.3,239.6 269.3,240.3 271.9,240.3 271.9,241.2 275.4,241.2 277.2,241.2 277.2,239.9 279.8,239.9 279.8,239.4 281.6,239.4 281.6,238.9 285.1,238.9 285.1,239.4 286.8,239.4 286.8,239.6 303.5,239.6" fill="none" stroke="#6388cd" stroke-width="0.95"/>
<line x1="52.5" y1="331.6" x2="52.5" y2="337.7" stroke="#e6981c" stroke-width="1"/>
<line x1="55.5" y1="331.07" x2="55.5" y2="338.6" stroke="#e6981c" stroke-width="1"/>
<line x1="59.5" y1="330.38" x2="59.5" y2="341.2" stroke="#e6981c" stroke-width="1"/>
<line x1="63.5" y1="330.3" x2="63.5" y2="334" stroke="#e6981c" stroke-width="1"/>
<line x1="64.5" y1="328.9" x2="64.5" y2="335" stroke="#e6981c" stroke-width="1"/>
<line x1="68.5" y1="329.41" x2="68.5" y2="337" stroke="#e6981c" stroke-width="1"/>
<line x1="70.5" y1="331.16" x2="70.5" y2="335.71" stroke="#e6981c" stroke-width="1"/>
<line x1="72.5" y1="331.4" x2="72.5" y2="342.6" stroke="#e6981c" stroke-width="1"/>
<line x1="73.5" y1="333.36" x2="73.5" y2="339.04" stroke="#e6981c" stroke-width="1"/>
<line x1="76.5" y1="333.34" x2="76.5" y2="342.6" stroke="#e6981c" stroke-width="1"/>
<line x1="78.5" y1="332.89" x2="78.5" y2="335.75" stroke="#e6981c" stroke-width="1"/>
<line x1="80.5" y1="331.4" x2="80.5" y2="339" stroke="#e6981c" stroke-width="1"/>
<line x1="84.5" y1="329.77" x2="84.5" y2="342" stroke="#e6981c" stroke-width="1"/>
<line x1="85.5" y1="327.23" x2="85.5" y2="334.6" stroke="#e6981c" stroke-width="1"/>
<line x1="87.5" y1="325.83" x2="87.5" y2="337" stroke="#e6981c" stroke-width="1"/>
<line x1="88.5" y1="326.04" x2="88.5" y2="333.7" stroke="#e6981c" stroke-width="1"/>
<line x1="90.5" y1="326.33" x2="90.5" y2="332.69" stroke="#e6981c" stroke-width="1"/>
<line x1="92.5" y1="326.42" x2="92.5" y2="334.2" stroke="#e6981c" stroke-width="1"/>
<line x1="95.5" y1="326.53" x2="95.5" y2="329" stroke="#e6981c" stroke-width="1"/>
<line x1="97.5" y1="326.61" x2="97.5" y2="329.74" stroke="#e6981c" stroke-width="1"/>
<line x1="99.5" y1="327.43" x2="99.5" y2="332.05" stroke="#e6981c" stroke-width="1"/>
<line x1="101.5" y1="329.98" x2="101.5" y2="333.24" stroke="#e6981c" stroke-width="1"/>
<line x1="105.5" y1="327.94" x2="105.5" y2="331" stroke="#e6981c" stroke-width="1"/>
<line x1="110.5" y1="327.5" x2="110.5" y2="333" stroke="#e6981c" stroke-width="1"/>
<line x1="112.5" y1="327.5" x2="112.5" y2="333.37" stroke="#e6981c" stroke-width="1"/>
<line x1="114.5" y1="328.22" x2="114.5" y2="333.28" stroke="#e6981c" stroke-width="1"/>
<line x1="118.5" y1="331" x2="118.5" y2="336" stroke="#e6981c" stroke-width="1"/>
<line x1="121.5" y1="331.7" x2="121.5" y2="336.03" stroke="#e6981c" stroke-width="1"/>
<line x1="122.5" y1="333.25" x2="122.5" y2="340" stroke="#e6981c" stroke-width="1"/>
<line x1="126.5" y1="334.6" x2="126.5" y2="343" stroke="#e6981c" stroke-width="1"/>
<line x1="130.5" y1="334" x2="130.5" y2="342" stroke="#e6981c" stroke-width="1"/>
<line x1="134.5" y1="330.93" x2="134.5" y2="337" stroke="#e6981c" stroke-width="1"/>
<line x1="137.5" y1="326.72" x2="137.5" y2="340" stroke="#e6981c" stroke-width="1"/>
<line x1="140.5" y1="326.1" x2="140.5" y2="329.52" stroke="#e6981c" stroke-width="1"/>
<line x1="142.5" y1="326.1" x2="142.5" y2="333" stroke="#e6981c" stroke-width="1"/>
<line x1="144.5" y1="326.5" x2="144.5" y2="332.06" stroke="#e6981c" stroke-width="1"/>
<line x1="147.5" y1="325.98" x2="147.5" y2="333" stroke="#e6981c" stroke-width="1"/>
<line x1="151.5" y1="323.78" x2="151.5" y2="336" stroke="#e6981c" stroke-width="1"/>
<line x1="153.5" y1="323.53" x2="153.5" y2="329.86" stroke="#e6981c" stroke-width="1"/>
<line x1="156.5" y1="323.24" x2="156.5" y2="331.4" stroke="#e6981c" stroke-width="1"/>
<line x1="159.5" y1="324.5" x2="159.5" y2="327.84" stroke="#e6981c" stroke-width="1"/>
<line x1="163.5" y1="325.86" x2="163.5" y2="331.4" stroke="#e6981c" stroke-width="1"/>
<line x1="165.5" y1="326.53" x2="165.5" y2="332.95" stroke="#e6981c" stroke-width="1"/>
<line x1="167.5" y1="327.88" x2="167.5" y2="333.7" stroke="#e6981c" stroke-width="1"/>
<line x1="171.5" y1="330.4" x2="171.5" y2="336" stroke="#e6981c" stroke-width="1"/>
<line x1="173.5" y1="330.43" x2="173.5" y2="336.04" stroke="#e6981c" stroke-width="1"/>
<line x1="176.5" y1="329.91" x2="176.5" y2="332.76" stroke="#e6981c" stroke-width="1"/>
<line x1="180.5" y1="328.99" x2="180.5" y2="339" stroke="#e6981c" stroke-width="1"/>
<line x1="182.5" y1="328.82" x2="182.5" y2="334.36" stroke="#e6981c" stroke-width="1"/>
<line x1="184.5" y1="327.94" x2="184.5" y2="334.3" stroke="#e6981c" stroke-width="1"/>
<line x1="188.5" y1="326.94" x2="188.5" y2="339" stroke="#e6981c" stroke-width="1"/>
<line x1="193.5" y1="323.68" x2="193.5" y2="337" stroke="#e6981c" stroke-width="1"/>
<line x1="195.5" y1="323.31" x2="195.5" y2="326.52" stroke="#e6981c" stroke-width="1"/>
<line x1="197.5" y1="323.2" x2="197.5" y2="333" stroke="#e6981c" stroke-width="1"/>
<line x1="199.5" y1="323.41" x2="199.5" y2="331" stroke="#e6981c" stroke-width="1"/>
<line x1="202.5" y1="324" x2="202.5" y2="331" stroke="#e6981c" stroke-width="1"/>
<line x1="203.5" y1="326.66" x2="203.5" y2="332.09" stroke="#e6981c" stroke-width="1"/>
<line x1="207.5" y1="329.59" x2="207.5" y2="339.8" stroke="#e6981c" stroke-width="1"/>
<line x1="209.5" y1="330.21" x2="209.5" y2="333.17" stroke="#e6981c" stroke-width="1"/>
<line x1="210.5" y1="330.7" x2="210.5" y2="338" stroke="#e6981c" stroke-width="1"/>
<line x1="214.5" y1="327.36" x2="214.5" y2="330.94" stroke="#e6981c" stroke-width="1"/>
<line x1="216.5" y1="326.5" x2="216.5" y2="335" stroke="#e6981c" stroke-width="1"/>
<line x1="218.5" y1="325.25" x2="218.5" y2="330.97" stroke="#e6981c" stroke-width="1"/>
<line x1="220.5" y1="324.68" x2="220.5" y2="333" stroke="#e6981c" stroke-width="1"/>
<line x1="224.5" y1="324.22" x2="224.5" y2="331" stroke="#e6981c" stroke-width="1"/>
<line x1="227.5" y1="323.74" x2="227.5" y2="333" stroke="#e6981c" stroke-width="1"/>
<line x1="229.5" y1="323.46" x2="229.5" y2="329.38" stroke="#e6981c" stroke-width="1"/>
<line x1="231.5" y1="323.12" x2="231.5" y2="330" stroke="#e6981c" stroke-width="1"/>
<line x1="236.5" y1="322.77" x2="236.5" y2="330" stroke="#e6981c" stroke-width="1"/>
<line x1="238.5" y1="323.24" x2="238.5" y2="326.6" stroke="#e6981c" stroke-width="1"/>
<line x1="241.5" y1="323.75" x2="241.5" y2="329" stroke="#e6981c" stroke-width="1"/>
<line x1="244.5" y1="323.91" x2="244.5" y2="327.72" stroke="#e6981c" stroke-width="1"/>
<line x1="247.5" y1="325.04" x2="247.5" y2="333" stroke="#e6981c" stroke-width="1"/>
<line x1="249.5" y1="326.02" x2="249.5" y2="328.89" stroke="#e6981c" stroke-width="1"/>
<line x1="252.5" y1="327.66" x2="252.5" y2="331" stroke="#e6981c" stroke-width="1"/>
<line x1="254.5" y1="330.48" x2="254.5" y2="335.39" stroke="#e6981c" stroke-width="1"/>
<line x1="256.5" y1="330.88" x2="256.5" y2="336.3" stroke="#e6981c" stroke-width="1"/>
<line x1="259.5" y1="329.63" x2="259.5" y2="336" stroke="#e6981c" stroke-width="1"/>
<line x1="261.5" y1="328.64" x2="261.5" y2="334" stroke="#e6981c" stroke-width="1"/>
<line x1="263.5" y1="327.94" x2="263.5" y2="332.38" stroke="#e6981c" stroke-width="1"/>
<line x1="265.5" y1="326.34" x2="265.5" y2="335.4" stroke="#e6981c" stroke-width="1"/>
<line x1="266.5" y1="324.72" x2="266.5" y2="330.68" stroke="#e6981c" stroke-width="1"/>
<line x1="268.5" y1="323.59" x2="268.5" y2="333" stroke="#e6981c" stroke-width="1"/>
<line x1="271.5" y1="322.44" x2="271.5" y2="328.57" stroke="#e6981c" stroke-width="1"/>
<line x1="275.5" y1="323.2" x2="275.5" y2="326.69" stroke="#e6981c" stroke-width="1"/>
<line x1="277.5" y1="326.7" x2="277.5" y2="332.16" stroke="#e6981c" stroke-width="1"/>
<line x1="279.5" y1="328.95" x2="279.5" y2="334" stroke="#e6981c" stroke-width="1"/>
<line x1="281.5" y1="330.6" x2="281.5" y2="336.3" stroke="#e6981c" stroke-width="1"/>
<line x1="284.5" y1="329.64" x2="284.5" y2="339.8" stroke="#e6981c" stroke-width="1"/>
<line x1="288.5" y1="328.4" x2="288.5" y2="336" stroke="#e6981c" stroke-width="1"/>
<line x1="290.5" y1="327.87" x2="290.5" y2="332.78" stroke="#e6981c" stroke-width="1"/>
<line x1="293.5" y1="327.5" x2="293.5" y2="333" stroke="#e6981c" stroke-width="1"/>
<line x1="295.5" y1="327.5" x2="295.5" y2="330.15" stroke="#e6981c" stroke-width="1"/>
<line x1="299.5" y1="328.26" x2="299.5" y2="331.72" stroke="#e6981c" stroke-width="1"/>
<line x1="302.5" y1="329" x2="302.5" y2="332.53" stroke="#e6981c" stroke-width="1"/>
<polyline points="36.2,341.7 41,341.7 41,342.6 41,341.5 41.82,341.5 41.82,339.43 42.97,339.43 42.97,338.47 43.99,338.47 43.99,336.99 44.77,336.99 44.77,337.36 45.61,337.36 45.61,338.09 46.89,338.09 46.89,334.74 47.79,334.75 48.94,334.75 48.94,334.45 49.88,334.45 49.88,333.83 50.79,333.83 50.79,333.08 51.67,333.08 51.67,331.71 52.67,331.71 52.67,331.6 53.65,331.6 53.65,332.17 54.46,332.17 54.46,330.78 55.82,330.78 55.82,331.73 57.21,331.73 57.21,330.78 58.58,330.78 58.58,331.29 59.43,331.29 59.43,330.92 60.72,330.92 60.72,330.73 61.78,330.73 61.78,330.2 62.72,330.2 62.72,330.12 63.47,330.08 64.37,330.08 64.37,329.53 65.1,329.53 65.1,329.64 66.29,329.63 67.62,329.63 67.62,329.56 68.72,329.56 69.94,329.56 69.94,330.81 70.85,330.81 70.85,331.64 71.92,331.64 71.92,331.45 73.28,331.45 73.28,333.26 74.21,333.26 74.21,333.5 75.52,333.5 75.52,333.59 76.77,333.59 76.77,333.2 77.6,333.2 77.6,333.31 78.88,333.31 78.88,332.58 80.13,332.58 80.13,332.79 81.39,332.79 81.39,331.67 82.1,331.67 82.1,330.95 83.4,330.95 83.4,329.59 84.29,329.59 84.29,329.52 85.36,329.52 85.36,328.17 86.39,328.17 86.39,327.03 87.09,327.03 87.09,325.42 87.88,325.42 87.88,325.63 88.63,325.63 88.63,326.93 89.93,326.93 89.93,325.87 90.98,325.87 90.98,326.27 91.9,326.27 91.9,326.37 93.05,326.37 93.05,326.75 94.01,326.75 94.01,326.24 94.94,326.24 94.94,326.19 96.02,326.19 96.02,327.07 96.99,327.07 96.99,326.22 97.82,326.22 97.82,326.67 98.94,326.67 98.94,327.29 99.91,327.29 99.91,329.33 101.04,329.33 101.04,330.59 102,330.59 102,329.83 103.19,329.83 103.19,328.67 104.38,328.67 104.38,328.29 105.25,328.29 105.25,328.17 106.44,328.17 106.44,327.22 107.44,327.22 107.44,327.6 108.75,327.6 108.75,328.31 109.71,328.31 109.71,328.26 110.97,328.26 110.97,327.37 111.99,327.37 111.99,327.17 113.26,327.17 113.26,328.2 114.58,328.2 114.58,328.72 115.75,328.72 115.75,328.98 116.84,328.98 116.84,329.19 117.96,329.19 117.96,330.16 118.76,330.16 118.76,331.7 119.49,331.7 119.49,330.93 120.26,330.93 120.26,332.24 121.08,332.24 121.08,331.25 122.37,331.25 122.37,332.43 123.66,332.43 123.66,335.04 124.95,335.04 124.95,335.43 126.05,335.43 126.05,335.22 126.78,335.17 127.84,335.17 127.84,335.1 128.61,335.15 129.96,335.15 129.96,333.92 130.89,333.92 130.89,333.7 132.17,333.7 132.17,331.97 133,331.97 133,331.47 134.13,331.47 134.13,331.66 135.1,331.66 135.1,330.5 136.08,330.5 136.08,328.47 137.07,328.47 137.07,326.52 138.12,326.52 138.12,327.4 139.11,327.4 139.11,326.75 139.93,326.75 139.93,326.57 141.16,326.54 142.22,326.54 142.22,326.28 143.37,326.28 143.37,326.99 144.17,326.99 144.17,326 145.4,326 145.4,327.36 146.46,327.36 146.46,326.54 147.66,326.54 147.66,325.22 148.55,325.22 148.55,324.53 149.66,324.53 149.66,323.81 150.52,323.81 150.52,324.12 151.89,324.12 151.89,323.7 153.08,323.72 154.38,323.76 155.27,323.76 155.27,323.11 155.98,323.11 155.98,323.37 156.95,323.37 156.95,323.04 157.9,323.04 157.9,323.34 159.14,323.34 159.14,324.02 160.54,324.02 160.54,325.31 161.66,325.31 161.66,325.57 162.94,325.57 162.94,326.34 164.03,326.34 164.03,326.08 165.24,326.08 165.24,326.94 166.22,326.94 166.22,327.36 167.59,327.36 167.59,328.13 168.45,328.13 168.45,328.8 169.65,328.8 169.65,330.31 171.02,330.31 171.02,331.1 171.89,331.1 171.89,330.52 172.77,330.52 172.77,330.41 173.97,330.41 173.97,331.11 175.3,331.11 175.3,330 176.6,330 176.6,329.82 177.6,329.82 177.6,330.2 178.36,330.2 178.36,329.12 179.64,329.12 179.64,329.02 180.59,329.02 180.59,329.27 181.77,329.27 181.77,328.39 182.7,328.39 182.7,328.93 183.74,328.93 183.74,328.26 184.85,328.26 184.85,328.81 185.82,328.81 185.82,328 186.61,328 186.61,327.46 187.77,327.46 187.77,327 189.09,327 189.09,327.42 189.86,327.42 189.86,327 190.82,327 190.82,325.72 192.05,325.72 192.05,323.87 193.23,323.87 193.23,324.15 194.49,324.15 194.49,323.37 195.72,323.37 195.72,324.12 196.89,324.12 196.89,323.45 197.67,323.45 197.67,323.39 198.62,323.39 198.62,323.73 199.79,323.73 199.79,323.79 200.62,323.79 200.62,324.09 201.76,324.09 201.76,323.7 203.08,323.7 203.08,326.04 203.87,326.04 203.87,327.57 204.67,327.53 205.87,327.53 205.87,329.11 206.96,329.11 206.96,329.88 207.98,329.88 207.98,329.74 208.8,329.74 208.8,329.66 210,329.66 210,331 211.09,330.97 212.04,330.97 212.04,329.44 213,329.41 213.73,329.41 213.73,328.22 214.61,328.22 214.61,327.89 215.56,327.89 215.56,326.72 216.54,326.72 216.54,326.44 217.78,326.44 217.78,325.44 219.07,325.44 219.07,324.51 219.96,324.51 219.96,324.38 220.74,324.38 220.74,325.23 221.95,325.23 221.95,324.24 222.78,324.24 222.78,324.46 224,324.46 224,324.86 225.22,324.86 225.22,324.39 226.03,324.39 226.03,324.01 226.86,324.01 226.86,324.07 227.96,324.07 227.96,323.46 228.84,323.46 228.84,324.14 229.56,324.14 229.56,324.07 230.88,324.08 231.85,324.08 231.85,323.39 232.96,323.34 234.34,323.34 234.34,323.21 235.25,323.21 235.25,323.33 236.29,323.33 236.29,323.13 237.5,323.13 237.5,322.55 238.74,322.55 238.74,323.73 239.78,323.76 240.8,323.76 240.8,323.48 241.87,323.48 241.87,323.32 242.93,323.32 242.93,324.24 243.94,324.24 243.94,324.18 245.31,324.18 245.31,324.72 246.1,324.73 247.24,324.73 247.24,324.39 248.19,324.39 248.19,325.23 248.95,325.23 248.95,326.12 250.3,326.12 250.3,326.65 251.61,326.65 251.61,327.46 252.4,327.46 252.4,327.86 253.52,327.86 253.52,329.4 254.72,329.4 254.72,330.96 255.66,330.96 255.66,331.41 257.01,331.41 257.01,331.62 258.02,331.62 258.02,331.46 259.06,331.46 259.06,329.72 259.79,329.72 259.79,329.08 260.63,329.08 260.63,328.59 261.68,328.59 261.68,329.04 262.75,329.04 262.75,328.35 263.91,328.35 263.91,327.85 264.93,327.85 264.93,327.42 265.91,327.42 265.91,325.52 267.24,325.52 267.24,324.79 268.2,324.79 268.2,323.81 269.27,323.81 270.13,323.81 270.13,322.73 270.97,322.73 270.97,323.41 271.77,323.41 271.77,322.56 272.61,322.56 272.61,321.79 273.43,321.79 274.25,321.79 274.25,321.04 275.03,321.04 275.03,322.75 276.07,322.75 276.07,326.28 276.78,326.28 276.78,326.83 277.77,326.83 277.77,327.18 278.51,327.18 278.51,327.78 279.48,327.78 279.48,329.7 280.86,329.7 280.86,330.33 281.63,330.33 281.63,330.85 282.44,330.85 282.44,330.73 283.38,330.73 283.38,329.64 284.12,329.64 284.12,330.19 285.01,330.19 285.01,329.91 286.04,329.91 286.04,329.7 286.95,329.7 286.95,328.53 287.83,328.53 287.83,329.12 288.97,329.12 288.97,328.2 289.74,328.2 289.74,328.5 291.12,328.5 291.12,328.05 291.82,328.05 291.82,327.11 292.58,327.11 292.58,327.24 293.31,327.24 293.31,327.08 294.47,327.08 294.47,328.26 295.31,328.26 295.31,328.36 296.34,328.36 296.34,328.13 297.68,328.13 297.68,328.32 298.41,328.32 298.41,327.59 299.53,327.59 299.53,329.36 300.3,329.36 300.3,328.88 301.59,328.91 302.56,328.86" fill="none" stroke="#e08d08" stroke-width="1.0"/>
</svg>
</body></html>
